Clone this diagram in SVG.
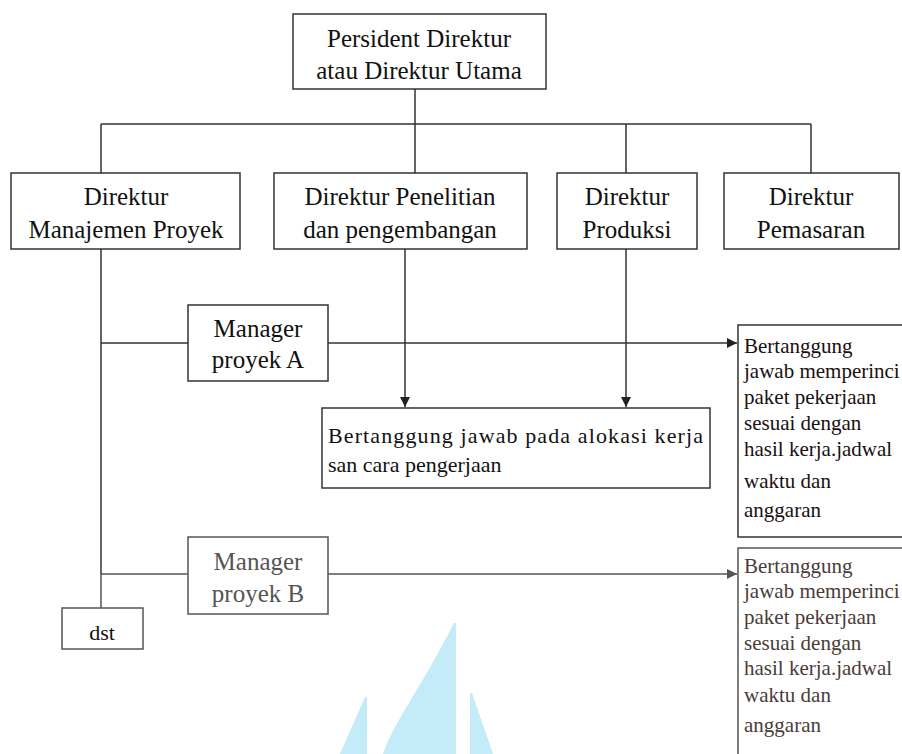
<svg xmlns="http://www.w3.org/2000/svg" width="902" height="754" viewBox="0 0 902 754">
<defs>
<marker id="arr" viewBox="0 0 10 10" refX="10" refY="5" markerWidth="10" markerHeight="10" markerUnits="userSpaceOnUse" orient="auto">
<path d="M0,0 L10,5 L0,10 z" fill="#222"/>
</marker>
<marker id="arrg" viewBox="0 0 10 10" refX="10" refY="5" markerWidth="10" markerHeight="10" markerUnits="userSpaceOnUse" orient="auto">
<path d="M0,0 L10,5 L0,10 z" fill="#555"/>
</marker>
<style>
.box{fill:#fff;stroke:#333;stroke-width:1.5}
.boxg{fill:#fff;stroke:#555;stroke-width:1.5}
.t{font-family:"Liberation Serif","Times New Roman",serif;font-size:25px;fill:#111;text-anchor:middle}
.tg{font-family:"Liberation Serif","Times New Roman",serif;font-size:25px;fill:#555;text-anchor:middle}
.s{font-family:"Liberation Serif","Times New Roman",serif;font-size:21px;fill:#1a1010}
.sb{font-family:"Liberation Serif","Times New Roman",serif;font-size:21px;fill:#4a3c38}
.m{font-family:"Liberation Serif","Times New Roman",serif;font-size:22px;fill:#111}
.ln{fill:none;stroke:#333;stroke-width:1.5}
.lng{fill:none;stroke:#555;stroke-width:1.5}
.wm{fill:#c4ebf8}
</style>
</defs>
<rect width="902" height="754" fill="#fff"/>
<g id="watermark">
<path class="wm" d="M454,623 L456,623 L456,754 L383,754 C395,720 420,690 454,623 z"/>
<path class="wm" d="M365,697 L367,697 L367,754 L340,754 z"/>
<path class="wm" d="M470,693 L472,693 L493,754 L470,754 z"/>
</g>
<g id="connectors">
<path class="ln" d="M415,89 V124 M101,124 H811 M101,124 V173 M415,124 V173 M626,124 V173 M811,124 V173"/>
<path class="ln" d="M101,249 V574"/>
<path class="ln" d="M101,343 H188"/>
<path class="ln" d="M328,343 H737" marker-end="url(#arr)"/>
<path class="ln" d="M405,249 V407" marker-end="url(#arr)"/>
<path class="ln" d="M626,249 V407" marker-end="url(#arr)"/>
<path class="lng" d="M101,574 V608 M101,574 H188"/>
<path class="lng" d="M328,574 H737" marker-end="url(#arrg)"/>
</g>
<g id="presiden">
<rect class="box" x="293" y="14" width="253" height="75"/>
<text class="t" x="419" y="47">Persident Direktur</text>
<text class="t" x="419" y="79">atau Direktur Utama</text>
</g>
<g id="dir-manajemen">
<rect class="box" x="11" y="173" width="229" height="76"/>
<text class="t" x="126" y="205">Direktur</text>
<text class="t" x="126" y="238">Manajemen Proyek</text>
</g>
<g id="dir-penelitian">
<rect class="box" x="274" y="173" width="253" height="76"/>
<text class="t" x="400" y="205">Direktur Penelitian</text>
<text class="t" x="400" y="238">dan pengembangan</text>
</g>
<g id="dir-produksi">
<rect class="box" x="557" y="173" width="140" height="76"/>
<text class="t" x="627" y="205">Direktur</text>
<text class="t" x="627" y="238">Produksi</text>
</g>
<g id="dir-pemasaran">
<rect class="box" x="724" y="173" width="175" height="76"/>
<text class="t" x="811" y="205">Direktur</text>
<text class="t" x="811" y="238">Pemasaran</text>
</g>
<g id="manager-a">
<rect class="box" x="188" y="305" width="140" height="76"/>
<text class="t" x="258" y="337">Manager</text>
<text class="t" x="258" y="368">proyek A</text>
</g>
<g id="alokasi">
<rect class="box" x="322" y="408" width="388" height="80"/>
<text class="m" x="328" y="443" textLength="375" lengthAdjust="spacing">Bertanggung jawab pada alokasi kerja</text>
<text class="m" x="328" y="472">san cara pengerjaan</text>
</g>
<g id="tugas-a">
<rect class="box" x="738" y="325" width="180" height="212"/>
<text class="s" x="744" y="353">Bertanggung</text>
<text class="s" x="744" y="378">jawab memperinci</text>
<text class="s" x="744" y="404">paket pekerjaan</text>
<text class="s" x="744" y="430">sesuai dengan</text>
<text class="s" x="744" y="456">hasil kerja.jadwal</text>
<text class="s" x="744" y="488">waktu dan</text>
<text class="s" x="744" y="517">anggaran</text>
</g>
<g id="manager-b">
<rect class="boxg" x="188" y="537" width="140" height="77"/>
<text class="tg" x="258" y="570">Manager</text>
<text class="tg" x="258" y="602">proyek B</text>
</g>
<g id="dst">
<rect class="boxg" x="62" y="608" width="81" height="41"/>
<text class="t" x="102" y="640" style="font-size:22px">dst</text>
</g>
<g id="tugas-b">
<rect class="boxg" x="738" y="548" width="180" height="220"/>
<text class="sb" x="744" y="573">Bertanggung</text>
<text class="sb" x="744" y="598">jawab memperinci</text>
<text class="sb" x="744" y="624">paket pekerjaan</text>
<text class="sb" x="744" y="650">sesuai dengan</text>
<text class="sb" x="744" y="675">hasil kerja.jadwal</text>
<text class="sb" x="744" y="702">waktu dan</text>
<text class="sb" x="744" y="732">anggaran</text>
</g>
</svg>
